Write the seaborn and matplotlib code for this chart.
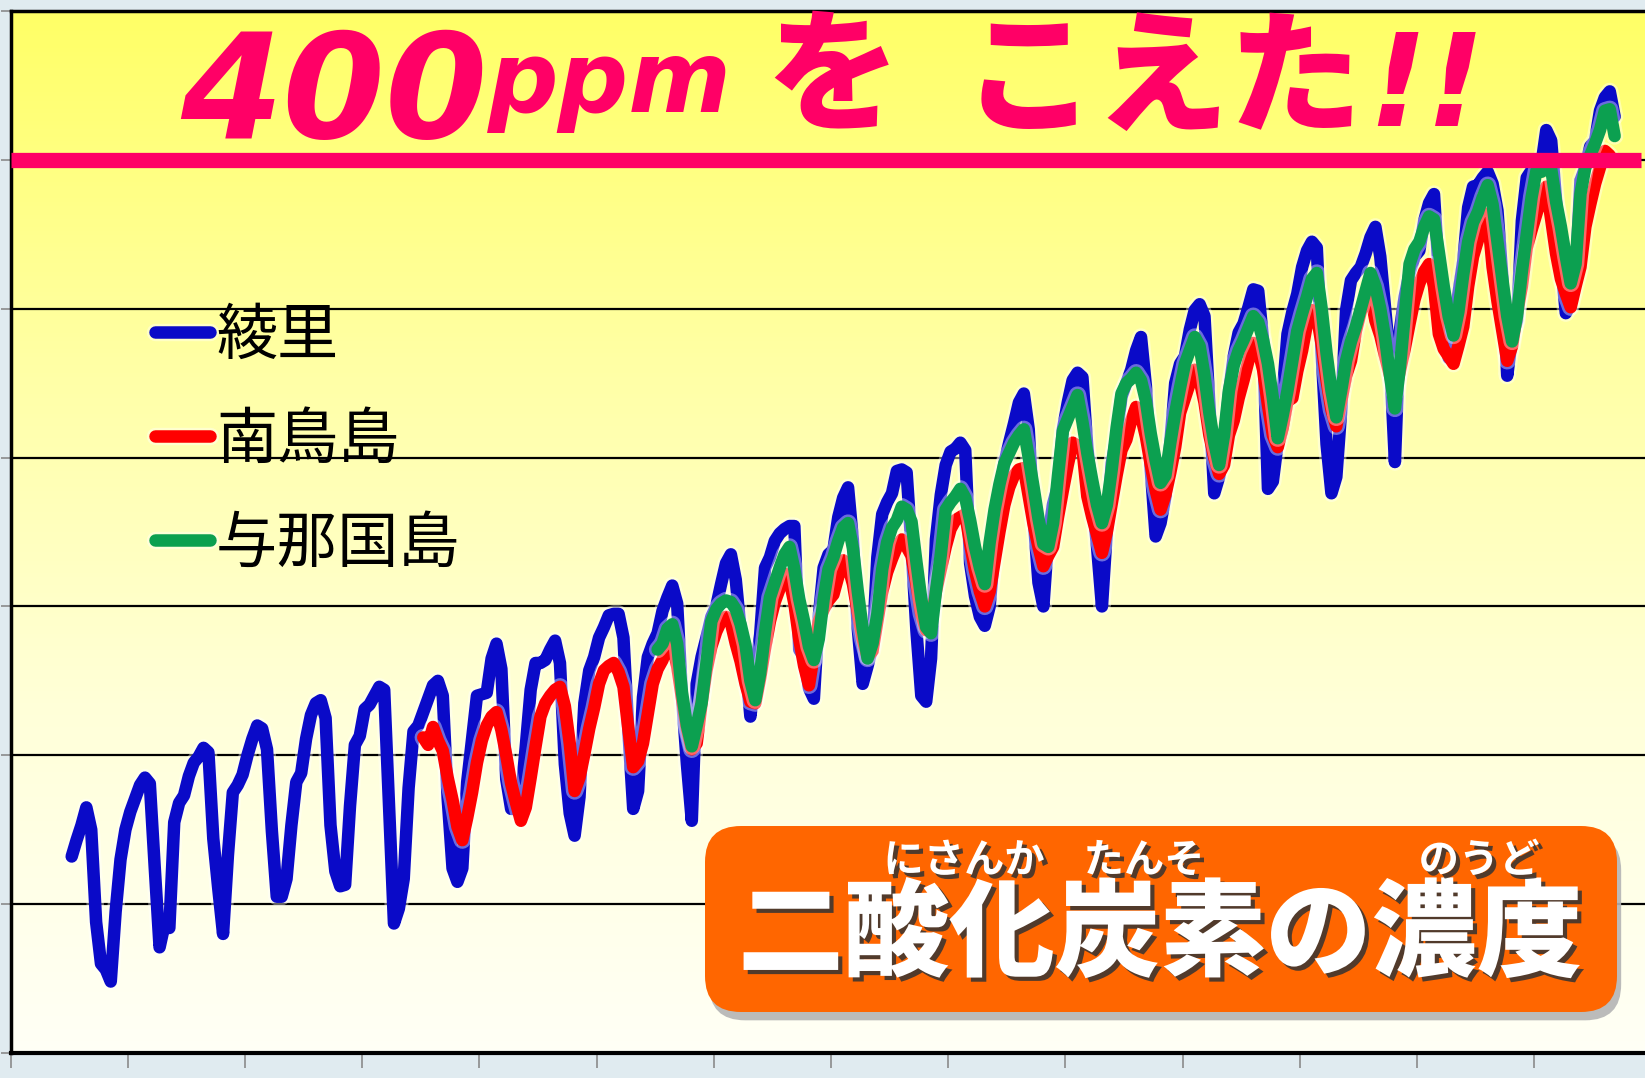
import matplotlib
matplotlib.use('Agg')
import matplotlib.pyplot as plt
import matplotlib.patheffects as pe
from matplotlib.colors import LinearSegmentedColormap
from matplotlib.patches import FancyBboxPatch
import numpy as np
import pandas as pd
import seaborn as sns

# monthly CO2 (ppm)
ryori = [
    353.2, 354.3, 355.3, 356.5, 355.0, 348.8, 346.0, 345.6, 344.8, 349.5, 353.0, 355.0,  # 1987
    356.2, 357.1, 358.0, 358.5, 358.1, 352.5, 347.1, 348.6, 348.4, 355.5, 356.8, 357.3,  # 1988
    358.6, 359.5, 359.9, 360.5, 360.2, 354.4, 351.1, 348.0, 353.3, 357.5, 358.0, 358.7,  # 1989
    360.0, 361.1, 362.0, 361.8, 360.4, 354.9, 350.5, 350.5, 351.7, 355.3, 358.2, 358.8,  # 1990
    361.1, 362.7, 363.5, 363.7, 362.5, 355.3, 352.2, 351.2, 351.3, 356.6, 360.7, 361.3,  # 1991
    363.1, 363.4, 364.0, 364.6, 364.4, 356.6, 348.7, 349.7, 351.7, 357.8, 361.6, 362.0,  # 1992
    362.9, 363.8, 364.7, 365.0, 364.0, 357.1, 352.4, 351.5, 352.4, 358.2, 361.1, 364.0,  # 1993
    364.1, 364.2, 366.5, 367.5, 365.8, 358.4, 356.4, 356.4, 357.0, 360.6, 364.4, 366.2,  # 1994
    366.2, 366.4, 367.1, 367.7, 366.2, 359.4, 356.1, 354.6, 357.2, 363.5, 365.7, 366.6,  # 1995
    367.9, 368.6, 369.4, 369.5, 369.5, 367.9, 361.7, 356.4, 357.6, 363.9, 366.6, 367.5,  # 1996
    368.2, 369.7, 370.6, 371.4, 370.2, 363.9, 359.4, 355.6, 364.8, 366.6, 367.9, 369.3,  # 1997
    370.0, 371.5, 372.9, 373.5, 371.8, 368.4, 366.2, 362.6, 365.5, 368.1, 372.6, 373.3,  # 1998
    374.4, 374.9, 375.2, 375.4, 375.4, 367.1, 366.6, 364.5, 363.8, 369.3, 372.6, 373.5,  # 1999
    373.8, 376.0, 377.3, 378.0, 374.4, 368.5, 364.8, 366.0, 367.3, 373.3, 376.2, 377.0,  # 2000
    377.6, 379.1, 379.2, 379.0, 374.0, 368.4, 364.0, 363.6, 366.5, 374.5, 377.5, 379.5,  # 2001
    380.4, 380.6, 381.0, 380.5, 372.9, 370.7, 369.3, 368.7, 370.0, 374.0, 377.4, 379.6,  # 2002
    381.0, 382.3, 383.7, 384.3, 381.9, 376.0, 371.6, 370.0, 374.7, 376.9, 378.1, 381.9,  # 2003
    383.7, 385.2, 385.7, 385.4, 380.7, 377.4, 374.0, 370.0, 375.1, 379.6, 381.4, 384.1,  # 2004
    385.0, 385.9, 387.2, 388.1, 384.8, 379.2, 374.7, 375.6, 377.4, 381.0, 385.0, 386.3,  # 2005
    386.8, 388.6, 389.9, 390.3, 389.5, 383.5, 377.6, 378.7, 381.0, 384.3, 386.8, 388.4,  # 2006
    389.0, 390.1, 391.3, 391.2, 387.9, 377.9, 378.4, 381.0, 384.2, 388.3, 389.8, 391.0,  # 2007
    392.8, 393.9, 394.5, 394.1, 387.0, 380.9, 377.6, 378.7, 383.2, 389.9, 391.9, 392.4,  # 2008
    392.8, 393.7, 394.8, 395.5, 393.5, 390.0, 386.5, 379.7, 388.5, 390.8, 392.4, 393.5,  # 2009
    393.9, 395.9, 397.1, 397.7, 392.4, 390.6, 386.7, 388.5, 391.0, 393.2, 396.8, 398.2,  # 2010
    398.3, 398.8, 399.2, 398.4, 396.6, 392.1, 385.5, 388.1, 389.2, 395.9, 398.8, 399.3,  # 2011
    399.3, 399.7, 402.0, 401.3, 397.3, 393.2, 389.7, 390.3, 392.1, 398.6, 399.5, 400.9,  # 2012
    401.3, 403.3, 404.2, 404.6, 402.9,                                                   # 2013
]

minamitorishima = [
    361.2, 360.7, 361.9, 361.0, 360.3, 358.5, 357.0, 355.2, 354.3, 355.8, 357.5, 359.5,  # 1993
    361.0, 362.0, 362.6, 362.9, 361.7, 360.0, 358.1, 356.8, 355.6, 356.5, 358.5, 360.6,  # 1994
    362.6, 363.5, 364.0, 364.4, 364.6, 363.3, 360.8, 357.6, 358.5, 360.1, 361.8, 363.2,  # 1995
    364.8, 365.7, 366.0, 366.2, 365.6, 364.6, 361.8, 359.2, 359.6, 360.8, 362.8, 364.8,  # 1996
    365.8, 366.4, 367.4, 367.5, 366.0, 363.8, 361.8, 360.4, 360.8, 363.5, 365.7, 367.3,  # 1997
    368.3, 369.0, 369.3, 368.9, 367.5, 366.3, 364.8, 363.6, 363.5, 365.2, 367.2, 369.0,  # 1998
    370.3, 371.2, 372.2, 371.8, 370.2, 367.8, 366.0, 364.7, 366.8, 369.0, 369.8, 370.4,  # 1999
    370.8, 372.0, 373.1, 372.7, 371.5, 369.6, 367.8, 366.6, 367.0, 369.0, 371.0, 372.3,  # 2000
    373.2, 374.0, 374.5, 374.0, 373.4, 371.5, 369.5, 368.4, 369.0, 371.0, 372.5, 374.0,  # 2001
    375.2, 375.8, 376.0, 376.2, 374.2, 372.4, 371.0, 370.0, 371.0, 373.0, 375.0, 376.8,  # 2002
    378.0, 378.8, 379.2, 379.3, 377.4, 375.5, 374.0, 372.7, 373.4, 374.0, 376.0, 377.8,  # 2003
    379.5, 381.0, 380.8, 380.6, 377.4, 376.0, 374.8, 373.6, 375.0, 376.9, 378.8, 380.5,  # 2004
    381.2, 382.5, 383.4, 382.8, 381.4, 379.5, 377.8, 376.5, 377.5, 379.0, 380.7, 383.0,  # 2005
    384.0, 385.0, 385.9, 385.2, 383.7, 381.5, 380.0, 378.9, 379.5, 381.5, 382.5, 384.0,  # 2006
    385.2, 386.5, 387.7, 387.2, 385.9, 383.5, 381.5, 380.7, 382.0, 383.8, 384.0, 385.8,  # 2007
    387.2, 389.0, 389.9, 389.5, 387.6, 385.2, 383.2, 382.1, 383.8, 385.5, 386.5, 388.5,  # 2008
    389.8, 390.6, 391.0, 389.2, 388.2, 386.8, 385.5, 384.3, 385.8, 387.3, 389.0, 390.6,  # 2009
    391.7, 392.5, 393.0, 391.5, 388.3, 387.3, 386.8, 386.3, 387.5, 388.8, 391.5, 393.5,  # 2010
    394.6, 395.5, 396.4, 392.8, 390.5, 388.5, 386.5, 387.5, 389.7, 391.5, 394.1, 395.3,  # 2011
    396.4, 397.5, 398.2, 396.0, 393.7, 392.0, 391.0, 390.1, 391.5, 392.8, 395.5, 397.0,  # 2012
    398.4, 399.5, 400.6, 400.3,                                                          # 2013
]

yonaguni = [
    367.1, 367.5, 368.5, 368.8, 367.5, 364.2, 362.0, 360.6, 362.0, 363.5, 366.2, 369.0,  # 1997
    369.8, 370.2, 370.4, 370.3, 369.8, 368.8, 367.4, 365.0, 363.7, 365.5, 368.3, 370.6,  # 1998
    371.6, 372.6, 373.5, 374.0, 372.5, 370.5, 369.0, 367.3, 366.4, 367.8, 370.5, 372.5,  # 1999
    373.3, 374.4, 375.3, 375.6, 373.9, 371.0, 368.5, 366.5, 367.5, 369.5, 372.5, 374.3,  # 2000
    375.3, 375.8, 376.7, 376.5, 375.7, 373.0, 370.5, 368.6, 368.2, 371.0, 373.5, 376.5,  # 2001
    377.0, 377.4, 377.9, 377.3, 375.8, 374.0, 372.6, 371.5, 374.3, 376.5, 378.2, 379.6,  # 2002
    380.3, 381.0, 381.5, 381.9, 380.0, 378.0, 375.9, 374.2, 374.0, 375.6, 378.8, 381.8,  # 2003
    382.6, 383.4, 384.2, 382.4, 380.3, 378.5, 376.8, 375.6, 376.8, 379.2, 382.0, 384.3,  # 2004
    385.0, 385.3, 385.7, 385.2, 383.8, 381.6, 379.8, 378.3, 378.8, 381.0, 383.0, 384.7,  # 2005
    386.3, 387.2, 388.1, 387.5, 385.5, 383.0, 381.0, 379.5, 381.5, 384.5, 386.2, 387.2,  # 2006
    387.9, 388.7, 389.5, 389.1, 387.9, 386.3, 384.0, 381.3, 382.8, 384.5, 386.5, 388.5,  # 2007
    389.7, 390.8, 392.0, 392.4, 390.0, 387.0, 384.5, 382.7, 384.5, 386.5, 387.8, 388.8,  # 2008
    390.0, 391.2, 392.4, 391.5, 390.0, 388.0, 385.5, 383.3, 386.0, 389.5, 393.0, 394.0,  # 2009
    394.5, 395.5, 396.2, 396.0, 393.8, 391.5, 389.5, 388.2, 389.8, 392.3, 394.5, 395.8,  # 2010
    396.5, 397.5, 398.3, 397.0, 394.5, 392.0, 389.5, 387.8, 389.5, 392.5, 395.0, 397.5,  # 2011
    399.3, 399.2, 399.4, 399.4, 397.2, 395.5, 393.5, 391.7, 393.0, 397.7, 399.5, 400.3,  # 2012
    401.1, 402.0, 403.3, 403.4, 401.6,                                                   # 2013
]

sites = ['綾里', '南鳥島', '与那国島']
start_years = [1987, 1993, 1997]          # first month is January of these years
series = [ryori, minamitorishima, yonaguni]
colors = ['#0a0ac8', '#ff0000', '#0ca050']

plt.rcParams['font.family'] = ['Noto Sans CJK JP', 'DejaVu Sans']

W, H = 1645, 1078
fig = plt.figure(figsize=(W / 100, H / 100), dpi=100, facecolor='#e0ebf0')
ax = fig.add_axes([10.66 / W, 25 / H, 1640.6 / W, 1042 / H])

# yellow gradient plot area
grad = np.linspace(0, 1, 256).reshape(-1, 1)
cmap = LinearSegmentedColormap.from_list('bg', ['#fffff6', '#ffffd8', '#ffffa4', '#ffff66'])
ax.imshow(grad, cmap=cmap, origin='lower', extent=[0, 1, 0, 1], transform=ax.transAxes,
          aspect='auto', zorder=0)

for name, y0, vals, c in zip(sites, start_years, series, colors):
    d = pd.DataFrame({'month': np.arange(len(vals)) + (y0 - 1986) * 12, 'ppm': vals})
    sns.lineplot(data=d, x='month', y='ppm', color=c, lw=9, label=name, ax=ax,
                 estimator=None, solid_joinstyle='round', solid_capstyle='round',
                 path_effects=[pe.Stroke(linewidth=12.5, foreground='white', alpha=0.4), pe.Normal()],
                 zorder=3)

# 400 ppm line
ax.axhline(400, xmin=0, xmax=(1641 - 10.66) / 1640.6, color='#ff0066', lw=11, zorder=6,
           solid_capstyle='butt')

ax.set_xlim(-0.5, 335.5)
ax.set_ylim(340, 410)
ax.set_xticks(np.arange(-0.5, 336, 24))
ax.set_yticks(np.arange(340, 411, 10))
ax.set_xticklabels([])
ax.set_yticklabels([])
ax.set_xlabel('')
ax.set_ylabel('')
ax.set_axisbelow(True)
ax.grid(axis='y', color='black', lw=1.6)
ax.grid(axis='x', visible=False)
ax.tick_params(axis='x', direction='out', length=11, width=1.2, color='#8a8a8a')
ax.tick_params(axis='y', direction='out', length=7, width=1.2, color='#8a8a8a')
for s in ['top', 'left']:
    ax.spines[s].set_color('black')
    ax.spines[s].set_linewidth(2.5)
ax.spines['bottom'].set_color('black')
ax.spines['bottom'].set_linewidth(3)
ax.spines['right'].set_visible(False)

leg = ax.legend(loc='upper left', bbox_to_anchor=(155 / W, 1 - 305 / H),
                bbox_transform=fig.transFigure, frameon=False, fontsize=44,
                handlelength=0.9, handletextpad=0.1, labelspacing=0.68,
                borderpad=0, borderaxespad=0)

# overlay in pixel units for the banner and label box
ov = fig.add_axes([0, 0, 1, 1])
ov.set_xlim(0, W)
ov.set_ylim(H, 0)
ov.axis('off')
ov.patch.set_visible(False)

pink = '#ff0066'
ov.text(180, 138, '400', family='DejaVu Sans', weight='bold', style='oblique',
        fontsize=106, color=pink, va='baseline', ha='left')
ov.text(488, 112, 'ppm', family='DejaVu Sans', weight='bold', style='oblique',
        fontsize=71, color=pink, va='baseline', ha='left')
ov.text(833, 80, 'を', weight='black', fontsize=96, color=pink, va='center', ha='center')
ov.text(1163, 82, 'こえた', weight='black', fontsize=96, color=pink, va='center', ha='center')
ov.text(1368, 126, '!!', family='DejaVu Sans', weight='bold', style='oblique',
        fontsize=92, color=pink, va='baseline', ha='left')

box = FancyBboxPatch((705, 826), 912, 186, boxstyle='round,pad=0,rounding_size=36',
                     fc='#ff6600', ec='none',
                     path_effects=[pe.withSimplePatchShadow(offset=(3, -6), shadow_rgbFace='#b4b4b4',
                                                            alpha=0.9)])
ov.add_patch(box)
shadow = [pe.withSimplePatchShadow(offset=(3, -3), shadow_rgbFace='#333333', alpha=0.85)]
ov.text(1160, 936, '二酸化炭素の濃度', color='white', fontsize=76, weight='black',
        ha='center', va='center', path_effects=shadow)
for txt, cx in [('にさんか', 964), ('たんそ', 1144), ('のうど', 1479)]:
    ov.text(cx, 861, txt, color='white', fontsize=29, weight='bold', ha='center', va='center',
            path_effects=shadow)

fig.savefig('out.png', dpi=100, facecolor=fig.get_facecolor())
